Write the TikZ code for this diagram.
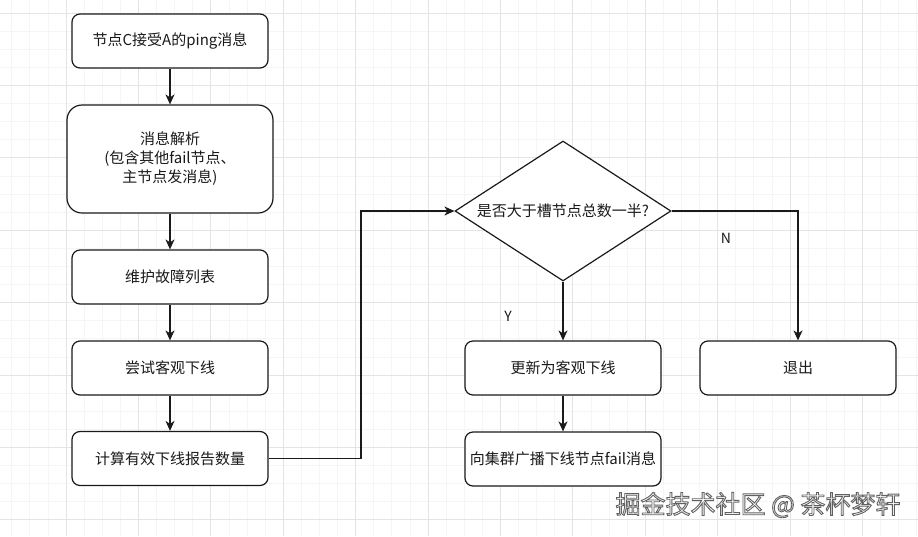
\documentclass[tikz,border=0pt]{standalone}
\usepackage{fontspec}
\setmainfont{Noto Sans CJK SC}
\usetikzlibrary{arrows.meta,shapes.geometric}
\definecolor{minorgrid}{HTML}{F5F5F5}
\definecolor{majorgrid}{HTML}{E4E4E4}
\definecolor{ink}{HTML}{1A1A1A}
\begin{document}
\begin{tikzpicture}[x=1pt,y=-1pt,
  txt/.style={font=\fontsize{15}{19}\selectfont, text=ink},
  box/.style={txt, draw=ink, line width=1.2pt, rounded corners=8pt, fill=white,
    minimum width=196pt, minimum height=54pt, align=center, inner sep=0pt},
  bigbox/.style={box, rounded corners=15pt, minimum width=206pt, minimum height=108pt},
  decision/.style={txt, draw=ink, line width=1.2pt, fill=white, diamond, aspect=1.54,
    minimum width=216pt, minimum height=140pt, inner sep=0pt},
  arr/.style={draw=ink, line width=1.2pt, -{Stealth[length=10pt,width=9pt,inset=3pt]}},
  lbl/.style={font=\fontsize{14}{14}\selectfont, text=ink},
  wm/.style={font=\fontsize{25}{25}\selectfont}
]
\useasboundingbox (0,0) rectangle (918,536);
\fill[white] (0,0) rectangle (918,536);
% grid
\foreach \i in {0,...,50} \draw[minorgrid, line width=0.8pt] ({11.7+18.1*\i},0) -- ({11.7+18.1*\i},536);
\foreach \i in {0,...,28} \draw[minorgrid, line width=0.8pt] (0,{13+18.1*\i}) -- (918,{13+18.1*\i});
\foreach \i in {0,...,11} \draw[majorgrid, line width=1pt] ({66+72.4*\i},0) -- ({66+72.4*\i},536);
\foreach \i in {0,...,7} \draw[majorgrid, line width=1pt] (0,{13+72.4*\i}) -- (918,{13+72.4*\i});

% nodes
\node[box] (n1) at (170,41) {节点C接受A的ping消息};
\node[bigbox] (n2) at (170,159) {消息解析\\(包含其他fail节点、\\主节点发消息)};
\node[box] (n3) at (170,277) {维护故障列表};
\node[box] (n4) at (170,368) {尝试客观下线};
\node[box] (n5) at (170,458.5) {计算有效下线报告数量};
\node[decision] (dia) at (563,211) {是否大于槽节点总数一半?};
\node[box] (n6) at (563,368) {更新为客观下线};
\node[box] (n7) at (798,368) {退出};
\node[box] (n8) at (563,459) {向集群广播下线节点fail消息};
\coordinate (c1) at (361,458.5);

% connectors
\draw[arr] (n1) -- (n2);
\draw[arr] (n2) -- (n3);
\draw[arr] (n3) -- (n4);
\draw[arr] (n4) -- (n5);
\draw[arr] (n5.east) -- (c1) |- (dia.west);
\draw[arr] (dia.east) -| (n7.north);
\draw[arr] (dia.south) -- (n6.north);
\draw[arr] (n6) -- (n8);

\node[lbl] (ln) at (726,238) {N};
\node[lbl] (ly) at (508,316) {Y};

% watermark (white letters with a grey outline)
\node[wm] (wmk) at (758,505) {\special{pdf:literal direct 2 Tr 0.9 w 0.38 G 1 g}掘金技术社区 @ 茶杯梦轩\special{pdf:literal direct 0 Tr}};
\end{tikzpicture}
\end{document}
